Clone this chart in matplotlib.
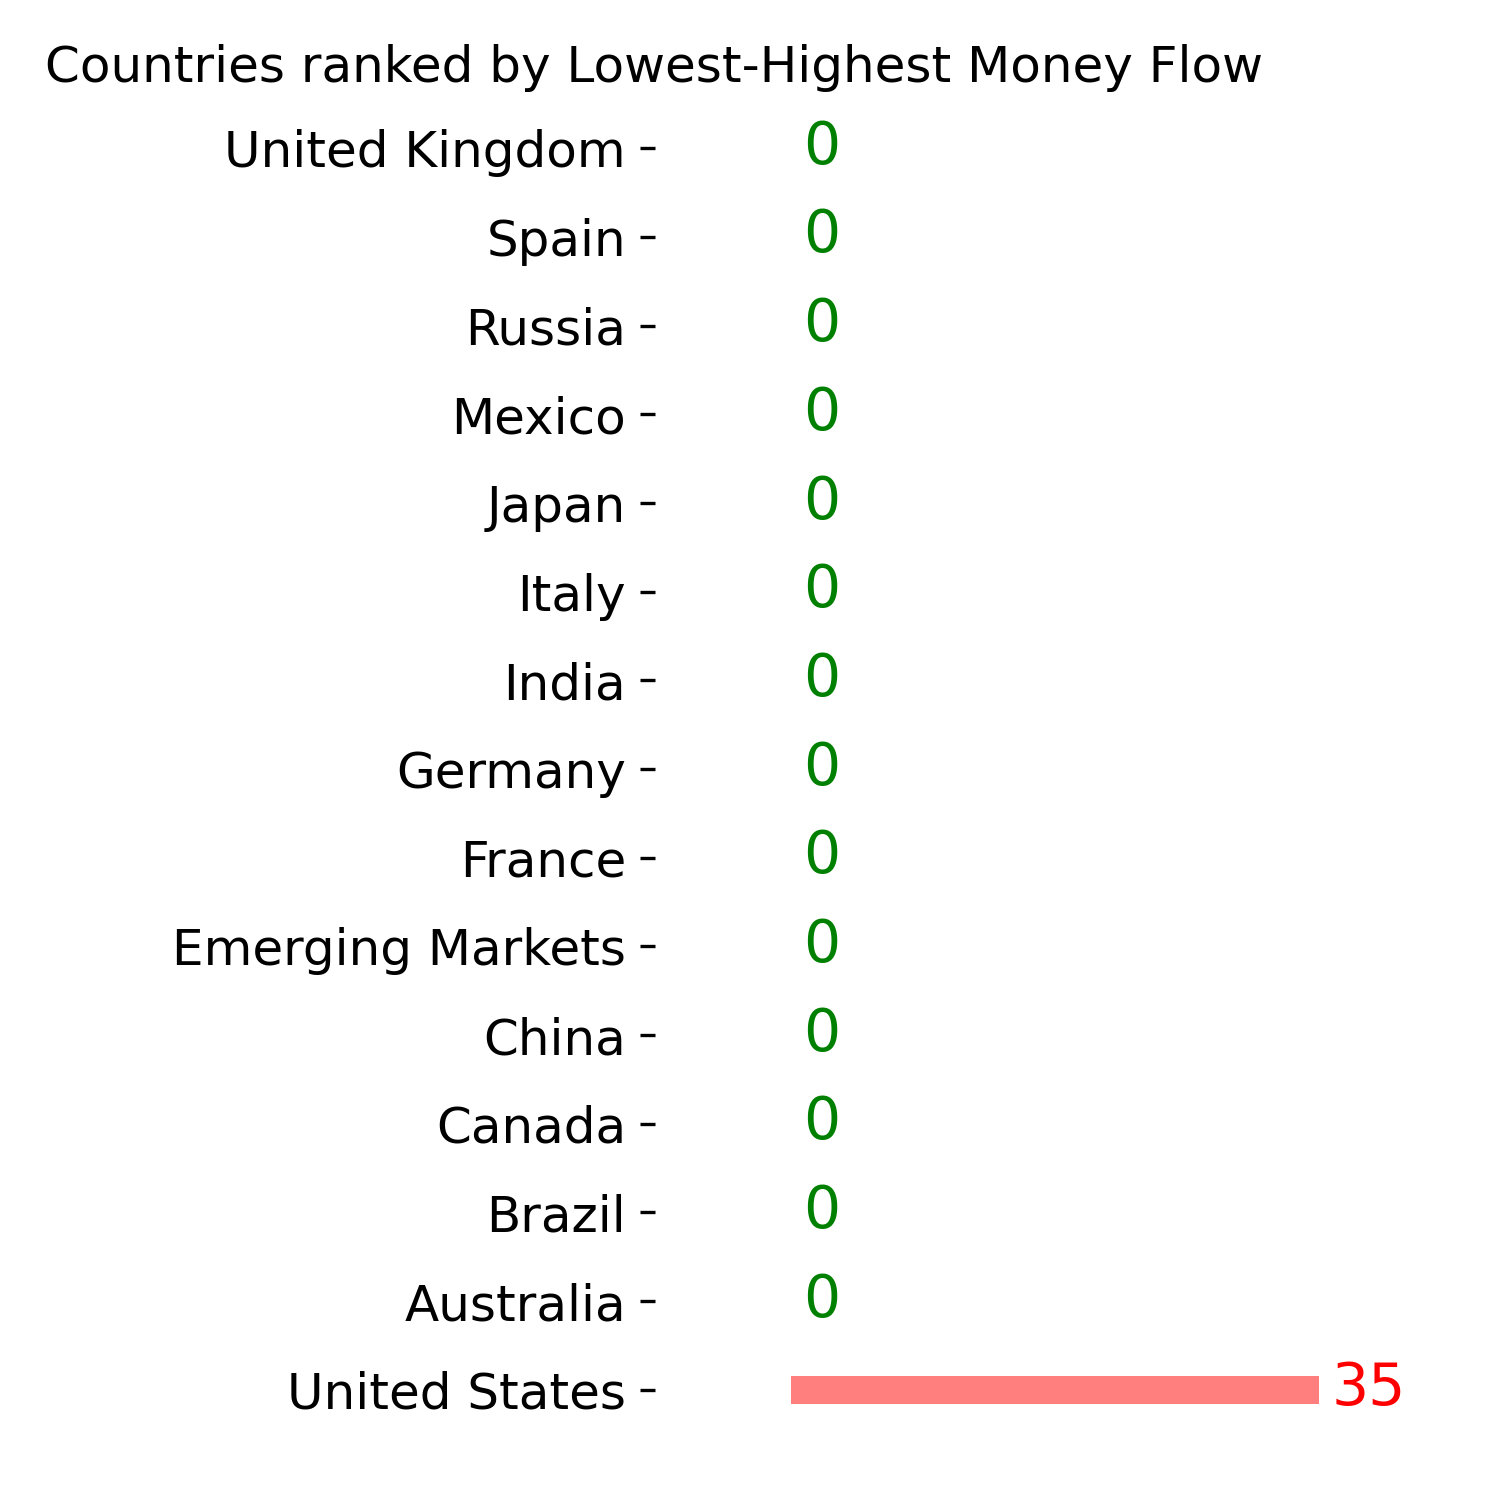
import matplotlib
matplotlib.use("Agg")
import matplotlib.pyplot as plt

# bottom-to-top order
countries = ["United States", "Australia", "Brazil", "Canada", "China",
             "Emerging Markets", "France", "Germany", "India", "Italy",
             "Japan", "Mexico", "Russia", "Spain", "United Kingdom"]
money_flow = [35, 0, 0, 0, 0, 0, 0, 0, 0, 0, 0, 0, 0, 0, 0]

fig = plt.figure(figsize=(5, 5), dpi=300)
ax = fig.add_axes([0.4368, 0.038, 0.4627, 0.8987])

ypos = range(len(countries))
ax.barh(ypos, money_flow, height=0.32, color="red", alpha=0.5)

for i, v in enumerate(money_flow):
    col = "red" if v > 0 else "green"
    ax.text(v + 0.8, i + 0.01, str(v), va="center", ha="left", fontsize=14, color=col)

ax.set_yticks(list(ypos))
ax.set_yticklabels(countries, fontsize=12)
ax.set_xticks([])
ax.set_xlim(-9, 37)
ax.set_ylim(-0.6, len(countries) - 0.4)
for s in ax.spines.values():
    s.set_visible(False)

fig.text(45 / 1500, 1 - 68 / 1500, "Countries ranked by Lowest-Highest Money Flow",
         ha="left", va="center", fontsize=12)

plt.savefig("out.png", dpi=300)
